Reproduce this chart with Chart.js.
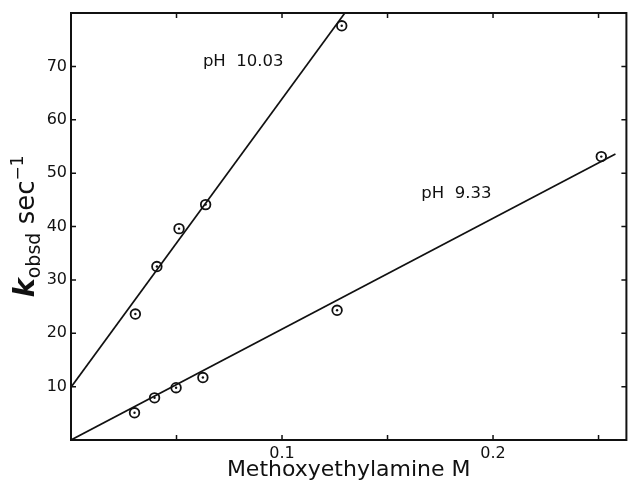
<!DOCTYPE html>
<html><head><meta charset="utf-8">
<script src="https://cdn.jsdelivr.net/npm/chart.js@4.4.1/dist/chart.umd.min.js"></script>
<style>html,body{margin:0;padding:0;background:#fff;}#wrap{width:633px;height:484px;}</style>
</head><body><div id="wrap"><canvas id="c" width="633" height="484"></canvas></div>
<script>
// ---- data ----
const xPH1003 = [0.0305, 0.0407, 0.0512, 0.0638, 0.1283];
const yPH1003 = [23.6, 32.5, 39.6, 44.1, 77.6];
const xPH933 = [0.0301, 0.0396, 0.0498, 0.0625, 0.1261, 0.2513];
const yPH933 = [5.1, 7.9, 9.8, 11.7, 24.3, 53.1];
// fitted straight lines (end points)
const fitX1003 = [0, 0.1296];
const fitY1003 = [9.9, 79.9];
const fitX933 = [0, 0.258];
const fitY933 = [0, 53.6];
// ticks
const xTickValues = [0.05, 0.1, 0.15, 0.2, 0.25];
const xTickLabels = ['', '0.1', '', '0.2', ''];
const yTickValues = [10, 20, 30, 40, 50, 60, 70];
const yTickLabels = ['10', '20', '30', '40', '50', '60', '70'];
// text
const seriesLabels = ['pH  10.03', 'pH  9.33'];
const labelPos = [[0.0625, 70.1], [0.166, 45.4]];
const xTitle = 'Methoxyethylamine M';

const INK = '#111';
const FONT = 'DejaVu Sans';
const pts = (xs, ys) => xs.map((x, i) => ({x, y: ys[i]}));

const framePlugin = {
  id: 'frame',
  afterDatasetsDraw(chart) {
    const {ctx, chartArea: a, scales: {x, y}} = chart;
    ctx.save();
    ctx.strokeStyle = INK;
    ctx.lineWidth = 2;
    ctx.strokeRect(a.left, a.top, a.right - a.left, a.bottom - a.top);
    ctx.lineWidth = 1.5;
    ctx.beginPath();
    xTickValues.forEach(v => {
      const px = x.getPixelForValue(v);
      ctx.moveTo(px, a.bottom); ctx.lineTo(px, a.bottom - 5);
      ctx.moveTo(px, a.top); ctx.lineTo(px, a.top + 5);
    });
    yTickValues.forEach(v => {
      const py = y.getPixelForValue(v);
      ctx.moveTo(a.left, py); ctx.lineTo(a.left + 5, py);
      ctx.moveTo(a.right, py); ctx.lineTo(a.right - 5, py);
    });
    ctx.stroke();
    // series labels
    ctx.fillStyle = INK;
    ctx.font = '16.5px "' + FONT + '"';
    ctx.textAlign = 'left';
    ctx.textBaseline = 'alphabetic';
    seriesLabels.forEach((t, i) => {
      ctx.fillText(t, x.getPixelForValue(labelPos[i][0]), y.getPixelForValue(labelPos[i][1]));
    });
    // y axis title: k_obsd sec^-1 (rotated)
    const parts = [
      {t: 'k', f: 'italic bold 29px "' + FONT + '"', dy: 0},
      {t: 'obsd', f: '19px "' + FONT + '"', dy: 6},
      {t: ' sec', f: '26px "' + FONT + '"', dy: 0},
      {t: '\u22121', f: '17px "' + FONT + '"', dy: -11}
    ];
    let total = 0;
    parts.forEach(p => { ctx.font = p.f; p.w = ctx.measureText(p.t).width; total += p.w; });
    ctx.translate(34, (a.top + a.bottom) / 2);
    ctx.rotate(-Math.PI / 2);
    let cx = -total / 2;
    parts.forEach(p => {
      ctx.font = p.f;
      ctx.fillText(p.t, cx, p.dy);
      cx += p.w;
    });
    ctx.restore();
  }
};

new Chart(document.getElementById('c'), {
  type: 'scatter',
  data: {
    datasets: [
      {type: 'line', data: pts(fitX1003, fitY1003), borderColor: INK, borderWidth: 1.7, pointRadius: 0, fill: false},
      {type: 'line', data: pts(fitX933, fitY933), borderColor: INK, borderWidth: 1.7, pointRadius: 0, fill: false},
      {data: pts(xPH1003, yPH1003), pointRadius: 4.8, pointBorderWidth: 1.8, borderColor: INK, backgroundColor: 'rgba(0,0,0,0)'},
      {data: pts(xPH1003, yPH1003), pointRadius: 1.2, pointBorderWidth: 0, backgroundColor: INK, borderColor: INK},
      {data: pts(xPH933, yPH933), pointRadius: 4.8, pointBorderWidth: 1.8, borderColor: INK, backgroundColor: 'rgba(0,0,0,0)'},
      {data: pts(xPH933, yPH933), pointRadius: 1.2, pointBorderWidth: 0, backgroundColor: INK, borderColor: INK}
    ]
  },
  options: {
    responsive: false,
    animation: false,
    devicePixelRatio: 1,
    layout: {padding: {top: 13, right: 2, left: 0, bottom: 0}},
    plugins: {legend: {display: false}, tooltip: {enabled: false}},
    scales: {
      x: {
        type: 'linear', min: 0, max: 0.2632,
        afterBuildTicks: s => { s.ticks = xTickValues.map(v => ({value: v})); },
        afterFit: s => { s.height = 44; s.paddingLeft = 0; s.paddingRight = 0; },
        grid: {display: false, drawTicks: false},
        border: {display: false},
        ticks: {
          padding: 4, maxRotation: 0, autoSkip: false, color: INK,
          font: {family: FONT, size: 16},
          callback: (v) => { const i = xTickValues.findIndex(t => Math.abs(t - v) < 1e-9); return i >= 0 ? xTickLabels[i] : ''; }
        },
        title: {display: true, text: xTitle, color: INK, font: {family: FONT, size: 22}, padding: {top: 0, bottom: 1}}
      },
      y: {
        type: 'linear', min: 0, max: 80,
        afterBuildTicks: s => { s.ticks = yTickValues.map(v => ({value: v})); },
        afterFit: s => { s.width = 71; s.paddingTop = 0; s.paddingBottom = 0; },
        grid: {display: false, drawTicks: false},
        border: {display: false},
        ticks: {
          padding: 4, color: INK,
          font: {family: FONT, size: 16},
          callback: (v) => { const i = yTickValues.indexOf(v); return i >= 0 ? yTickLabels[i] : ''; }
        }
      }
    }
  },
  plugins: [framePlugin]
});
</script>
</body></html>
